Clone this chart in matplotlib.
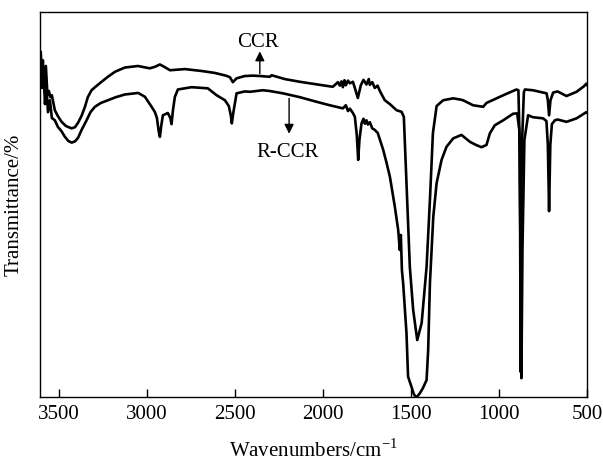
import matplotlib
matplotlib.use("Agg")
import matplotlib.pyplot as plt

plt.rcParams['font.family'] = ['Liberation Serif', 'DejaVu Serif']
plt.rcParams['mathtext.fontset'] = 'custom'
plt.rcParams['mathtext.rm'] = 'Liberation Serif'

# CCR spectrum (upper curve), wavenumber / transmittance (arbitrary %)
ccr_wn = [3601, 3594, 3589, 3580, 3572, 3563, 3555, 3546, 3538, 3521, 3504, 3483,
          3458, 3426, 3407, 3390, 3370, 3351, 3334, 3313, 3288, 3256, 3220, 3180,
          3124, 3050, 2982, 2953, 2925, 2897, 2868, 2783, 2688, 2613, 2551, 2528,
          2511, 2490, 2443, 2397, 2358, 2301, 2291, 2216, 2131, 2046, 1944, 1915,
          1904, 1895, 1887, 1878, 1870, 1858, 1847, 1830, 1819, 1802, 1785, 1770,
          1753, 1740, 1734, 1720, 1706, 1690, 1677, 1649, 1620,
          1582, 1554, 1541, 1526, 1507, 1488, 1465, 1440, 1412, 1393, 1376, 1355,
          1318, 1261, 1223, 1205, 1148, 1091, 1072, 977, 902, 891, 883, 878, 872,
          860, 854, 809, 731, 724, 717, 709, 694, 669, 618, 561, 520, 506, 500]
ccr_t = [89.6, 83.6, 87.5, 79.7, 86.0, 78.4, 79.5, 77.9, 78.4, 74.5, 73.0, 71.5,
         70.4, 69.8, 70.1, 71.2, 73.0, 75.3, 77.9, 79.7, 80.7, 81.9, 83.2, 84.5,
         85.6, 86.0, 85.4, 85.8, 86.4, 85.7, 84.9, 85.2, 84.7, 84.2, 83.5, 83.1,
         81.8, 82.8, 83.4, 83.5, 83.4, 83.2, 83.6, 82.6, 81.9, 81.3, 80.6, 81.8,
         80.9, 82.0, 80.5, 82.3, 81.0, 82.2, 81.5, 81.9, 80.3, 77.7, 81.0, 82.4,
         81.2, 82.6, 81.1, 81.8, 80.3, 80.9, 79.5, 77.1, 76.1,
         74.5, 74.1, 72.8, 55.6, 33.8, 22.6, 14.8, 19.2, 33.8, 51.2, 68.6, 75.6,
         77.1, 77.6, 77.3, 77.1, 75.8, 75.4, 76.4, 78.4, 79.9, 79.7, 64.2, 6.5, 64.2,
         79.2, 79.9, 79.7, 78.9, 77.1, 73.2, 77.1, 79.1, 79.4, 78.2, 79.3, 80.7, 81.4, 81.0]

# R-CCR spectrum (lower curve)
rccr_wn = [3601, 3594, 3586, 3577, 3569, 3560, 3549, 3538, 3521, 3504, 3484, 3464,
           3444, 3426, 3407, 3390, 3367, 3341, 3319, 3294, 3260, 3220, 3175, 3124,
           3048, 3010, 2972, 2953, 2942, 2931, 2925, 2917, 2908, 2880, 2866, 2859,
           2851, 2840, 2823, 2745, 2653, 2603, 2556, 2534, 2522, 2517, 2508, 2490,
           2443, 2415, 2341, 2301, 2227, 2131, 2036, 1961, 1887, 1870, 1858, 1847,
           1830, 1819, 1808, 1800, 1793, 1781, 1770, 1762, 1753, 1745, 1734, 1720,
           1706, 1689, 1658, 1640, 1620, 1592,
           1573, 1564, 1558, 1552, 1545, 1526, 1517, 1498, 1485, 1473, 1462, 1450,
           1433, 1412, 1403, 1393, 1374, 1355, 1327, 1299, 1261, 1214, 1166, 1132,
           1100, 1072, 1053, 1025, 977, 921, 898, 886, 879, 874, 868, 857, 836,
           809, 751, 732, 724, 717, 710, 701, 684, 669, 618, 561, 520, 506, 500]
rccr_t = [87.0, 80.3, 84.9, 76.1, 80.8, 74.0, 77.1, 72.5, 71.9, 70.2, 69.1, 67.6,
          66.5, 66.1, 66.4, 67.3, 69.6, 71.9, 74.0, 75.4, 76.4, 77.1, 77.9, 78.6,
          79.0, 78.0, 75.4, 74.0, 72.5, 68.8, 67.6, 70.6, 73.2, 73.8, 72.5, 70.9,
          74.5, 78.0, 79.9, 80.5, 80.2, 78.4, 77.1, 75.6, 73.0, 71.1, 74.0, 78.9,
          79.4, 79.3, 79.7, 79.5, 78.9, 77.9, 76.7, 75.8, 75.0, 75.8, 74.3, 74.9,
          73.8, 72.8, 68.1, 61.6, 66.8, 71.1, 72.3, 71.0, 71.9, 70.8, 71.4, 69.8,
          69.4, 68.6, 64.2, 61.0, 57.2, 49.4,
          43.4, 38.2, 42.1, 33.0, 29.6, 16.6, 5.3, 2.7, 0.8, 0.0, 0.3, 1.0,
          2.3, 4.4, 12.2, 29.6, 46.8, 55.6, 61.6, 65.0, 67.2, 68.1, 66.3, 65.5,
          64.9, 65.5, 68.5, 70.6, 71.9, 73.6, 73.7, 69.4, 38.2, 4.9, 38.2, 66.8, 73.2,
          72.7, 72.4, 71.7, 65.5, 48.3, 65.5, 70.9, 71.9, 72.1, 71.5, 72.4, 73.6, 74.0, 73.9]

xticks = [3500, 3000, 2500, 2000, 1500, 1000, 500]

fig = plt.figure(figsize=(6.03, 4.66), dpi=100)
ax = fig.add_axes([0.067, 0.148, 0.907, 0.826])

ax.plot(ccr_wn, ccr_t, color='black', lw=1.9)
ax.plot(rccr_wn, rccr_t, color='black', lw=1.9)

ax.set_xlim(3603, 500)
ax.set_ylim(0, 100)
ax.set_xticks(xticks)
ax.set_yticks([])
ax.tick_params(axis='x', direction='in', length=6, width=1, labelsize=15, pad=6)
for s in ax.spines.values():
    s.set_linewidth(1)

ax.set_xlabel('Wavenumbers/cm$^{-1}$', fontsize=15, labelpad=11)
ax.set_ylabel('Transmittance/%', fontsize=15, labelpad=12)

# labels with arrows
ax.annotate('', xy=(2358, 89.8), xytext=(2358, 84.0),
            arrowprops=dict(arrowstyle='-|>', color='black', lw=1, mutation_scale=14,
                            shrinkA=0, shrinkB=0))
ax.text(2369, 92.2, 'CCR', fontsize=15, ha='center', va='center')
ax.annotate('', xy=(2192, 68.4), xytext=(2192, 77.6),
            arrowprops=dict(arrowstyle='-|>', color='black', lw=1, mutation_scale=14,
                            shrinkA=0, shrinkB=0))
ax.text(2199, 63.6, 'R-CCR', fontsize=15, ha='center', va='center')

fig.savefig('out.png', dpi=100)
